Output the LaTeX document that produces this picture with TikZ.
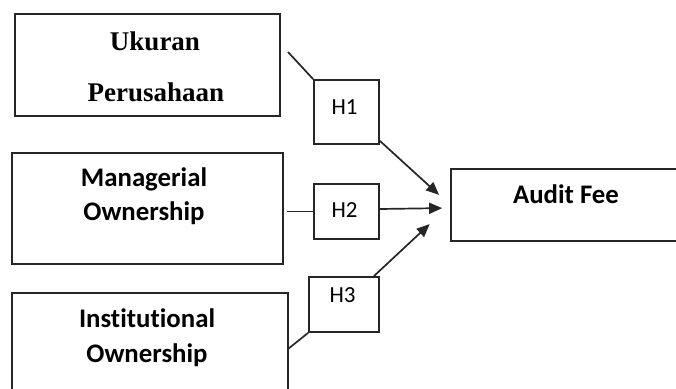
\documentclass[tikz,border=0pt]{standalone}
\usepackage{fontspec}
\setmainfont[Ligatures=NoCommon]{Carlito}
\newfontfamily\serifbold{Liberation Serif}
\usetikzlibrary{arrows.meta}
\begin{document}
\begin{tikzpicture}[x=1pt,y=-1pt,
  boxstyle/.style={draw=black!85,line width=1.7pt,rectangle,inner sep=0pt},
  lbl/.style={anchor=base,inner sep=0pt,font=\fontsize{26.8}{30}\selectfont\bfseries},
  slbl/.style={anchor=base,inner sep=0pt,font=\fontsize{27}{30}\selectfont\serifbold\bfseries},
  hlbl/.style={anchor=base,inner sep=0pt,font=\fontsize{23}{26}\selectfont},
  conn/.style={draw=black!85,line width=1.7pt},
  arr/.style={conn,-{Triangle[length=13pt,width=11pt]}}]
\useasboundingbox (0,0) rectangle (676,388);
\clip (0,0) rectangle (676,388);
\fill[white] (0,0) rectangle (676,388);
% boxes
\node[boxstyle,minimum width=265pt,minimum height=102pt] (box1) at (147.5,65) {};
\node[boxstyle,minimum width=271pt,minimum height=111pt] (box2) at (147.5,208.5) {};
\node[boxstyle,minimum width=276pt,minimum height=117pt] (box3) at (150,351.5) {};
\node[boxstyle,minimum width=239pt,minimum height=72pt] (audit) at (570.5,205) {};
\node[boxstyle,minimum width=65pt,minimum height=64pt] (h1) at (346.5,112) {};
\node[boxstyle,minimum width=65pt,minimum height=55pt] (h2) at (346.5,211.5) {};
\node[boxstyle,minimum width=70pt,minimum height=55pt] (h3) at (344,304.5) {};
% texts
\node[slbl] (t1a) at (155,50) {Ukuran};
\node[slbl] (t1b) at (156,101) {Perusahaan};
\node[lbl] (t2a) at (144,186) {Managerial};
\node[lbl] (t2b) at (144,220) {Ownership};
\node[lbl] (t3a) at (147,327) {Institutional};
\node[lbl] (t3b) at (147,362.5) {Ownership};
\node[lbl] (ta) at (566,203) {Audit Fee};
\node[hlbl] (th1) at (344.5,114) {H1};
\node[hlbl] (th2) at (344.5,217) {H2};
\node[hlbl] (th3) at (342.5,302.5) {H3};
% connectors
\coordinate (c1) at (288,52);
\coordinate (c3) at (288,349);
\draw[conn] (c1) -- (h1.north west);
\draw[conn,shorten <=3pt] (box2.east |- h2.west) -- (h2.west);
\draw[conn] (c3) -- (h3.south west);
\draw[arr,shorten >=15pt] ([yshift=4pt]h1.south east) -- (audit.west);
\draw[arr,shorten >=8pt] ([yshift=2.5pt]h2.east) -- ([yshift=-3pt]audit.west);
\draw[arr,shorten >=28pt] ([xshift=-6pt]h3.north east) -- (audit.west);
\end{tikzpicture}
\end{document}
